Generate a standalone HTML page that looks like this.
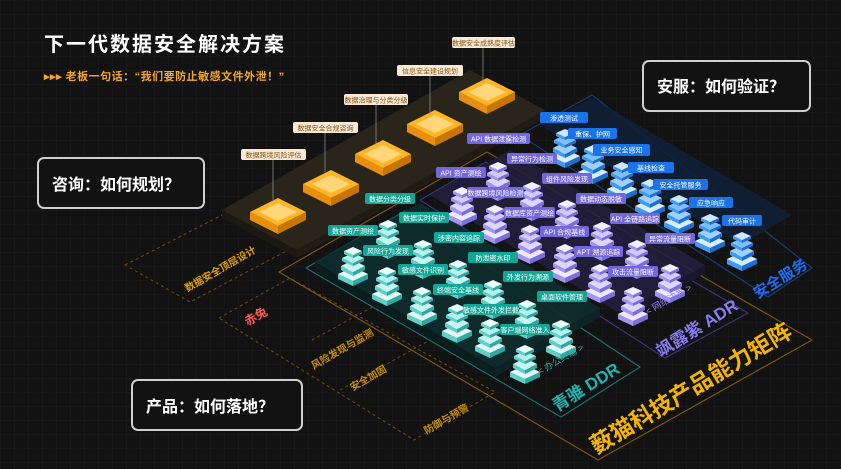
<!DOCTYPE html>
<html><head><meta charset="utf-8"><style>
html,body{margin:0;padding:0;background:#121212;}
svg{display:block;font-family:"Liberation Sans","Noto Sans CJK SC",sans-serif;}
</style></head><body>
<svg width="841" height="469" viewBox="0 0 841 469" xmlns="http://www.w3.org/2000/svg">
<defs>
<pattern id="grid" width="14" height="14" patternUnits="userSpaceOnUse">
<path d="M14 0H0V14" fill="none" stroke="#1c1c1c" stroke-width="1"/>
</pattern>
<g id="tstack">
<polygon points="-15,14 0,21 0,26 -15,19" fill="#5fd0c8"/><polygon points="15,14 0,21 0,26 15,19" fill="#2fa8a4"/><polygon points="0,7 15,14 0,21 -15,14" fill="#dffaf7"/>
<polygon points="-12,6 0,12 0,16 -12,10" fill="#5fd0c8"/><polygon points="12,6 0,12 0,16 12,10" fill="#2fa8a4"/><polygon points="0,0 12,6 0,12 -12,6" fill="#c8f5f1"/>
<polygon points="-11,-2 0,3 0,6 -11,1" fill="#5fd0c8"/><polygon points="11,-2 0,3 0,6 11,1" fill="#2fa8a4"/><polygon points="0,-7 11,-2 0,3 -11,-2" fill="#b6f0ec"/>
<polygon points="-9,-9 0,-5 0,-2 -9,-6" fill="#5fd0c8"/><polygon points="9,-9 0,-5 0,-2 9,-6" fill="#2fa8a4"/><polygon points="0,-13 9,-9 0,-5 -9,-9" fill="#e8fffc"/>
</g>
<g id="pstack">
<polygon points="-15,14 0,21 0,26 -15,19" fill="#a394f0"/><polygon points="15,14 0,21 0,26 15,19" fill="#7d6cdc"/><polygon points="0,7 15,14 0,21 -15,14" fill="#ece8ff"/>
<polygon points="-12,6 0,12 0,16 -12,10" fill="#a394f0"/><polygon points="12,6 0,12 0,16 12,10" fill="#7d6cdc"/><polygon points="0,0 12,6 0,12 -12,6" fill="#ddd6ff"/>
<polygon points="-11,-2 0,3 0,6 -11,1" fill="#a394f0"/><polygon points="11,-2 0,3 0,6 11,1" fill="#7d6cdc"/><polygon points="0,-7 11,-2 0,3 -11,-2" fill="#d2c9ff"/>
<polygon points="-9,-9 0,-5 0,-2 -9,-6" fill="#a394f0"/><polygon points="9,-9 0,-5 0,-2 9,-6" fill="#7d6cdc"/><polygon points="0,-13 9,-9 0,-5 -9,-9" fill="#f2efff"/>
</g>
<g id="bstack">
<polygon points="-15,14 0,21 0,26 -15,19" fill="#3d9cf0"/><polygon points="15,14 0,21 0,26 15,19" fill="#1c6fd0"/><polygon points="0,7 15,14 0,21 -15,14" fill="#d6ecff"/>
<polygon points="-12,6 0,12 0,16 -12,10" fill="#3d9cf0"/><polygon points="12,6 0,12 0,16 12,10" fill="#1c6fd0"/><polygon points="0,0 12,6 0,12 -12,6" fill="#9fd0ff"/>
<polygon points="-11,-2 0,3 0,6 -11,1" fill="#3d9cf0"/><polygon points="11,-2 0,3 0,6 11,1" fill="#1c6fd0"/><polygon points="0,-7 11,-2 0,3 -11,-2" fill="#7dbfff"/>
<polygon points="-9,-9 0,-5 0,-2 -9,-6" fill="#3d9cf0"/><polygon points="9,-9 0,-5 0,-2 9,-6" fill="#1c6fd0"/><polygon points="0,-13 9,-9 0,-5 -9,-9" fill="#cfe7ff"/>
</g>
<g id="gtile">
<polygon points="-28,0 0,14 0,22 -28,8" fill="#e88f10"/><polygon points="28,0 0,14 0,22 28,8" fill="#c97506"/>
<polygon points="0,-14 28,0 0,14 -28,0" fill="#ffb526"/>
<polygon points="0,-9 19,0 0,9 -19,0" fill="#ffd77a"/>
</g>
</defs>
<rect width="841" height="469" fill="#121212"/>
<rect width="841" height="469" fill="url(#grid)"/>

<polygon points="125,265 265,193 330,228 190,302" fill="none" stroke="#6a4e12" stroke-width="1" stroke-dasharray="3,3"/>
<polygon points="279,272 487,152 812,340 598,460" fill="none" stroke="#7a5410" stroke-width="1.2" stroke-linejoin="round"/>
<polygon points="219,318 290,278 495,392 414,440" fill="none" stroke="#6a4e12" stroke-width="1" stroke-dasharray="3,3"/>
<line x1="312" y1="340" x2="400" y2="292" stroke="#6a4e12" stroke-dasharray="3,3"/>
<line x1="340" y1="390" x2="430" y2="340" stroke="#6a4e12" stroke-dasharray="3,3"/>
<polygon points="306,268 405,211 640,367 561,417" fill="none" stroke="#1b6e70" stroke-width="1.2" stroke-linejoin="round"/>
<polygon points="420,200 486,162 748,313 665,358" fill="none" stroke="#3d3380" stroke-width="1.2" stroke-linejoin="round"/>
<polygon points="520,135 592,95 812,268 768,297" fill="none" stroke="#173d74" stroke-width="1.2" stroke-linejoin="round"/>

<polygon points="222,210 470,70 545,110 297,250" fill="#2a251a"/>
<polygon points="222,210 297,250 297,258 222,218" fill="#1c1912"/>
<polygon points="297,250 545,110 545,118 297,258" fill="#201c14"/>
<polygon points="540,125 592,98 792,215 740,245" fill="#0f2036" opacity="0.9"/>
<polygon points="430,195 510,150 705,265 622,315" fill="#241f3e" opacity="0.9"/>
<polygon points="622,315 705,265 705,273 622,323" fill="#1a1630"/>
<polygon points="315,262 420,203 600,308 495,368" fill="#0f2c2c" opacity="0.95"/>
<polygon points="315,262 495,368 495,377 315,271" fill="#0b1e1e"/>
<polygon points="495,368 600,308 600,317 495,377" fill="#0d2424"/>

<use href="#gtile" x="278" y="212"/>
<use href="#gtile" x="331" y="184"/>
<use href="#gtile" x="383" y="154"/>
<use href="#gtile" x="435" y="124"/>
<use href="#gtile" x="487" y="92"/>
<g stroke="#999" stroke-width="0.7">
<line x1="273" y1="160" x2="273" y2="200"/><line x1="325" y1="133" x2="325" y2="172"/><line x1="376" y1="105" x2="376" y2="145"/><line x1="430" y1="76" x2="430" y2="115"/><line x1="483" y1="48" x2="483" y2="82"/>
</g>
<g font-size="7" fill="#8a5414" text-anchor="middle">
<rect x="241" y="149" width="65" height="11" rx="2" fill="#f6ead6"/><text x="273.5" y="157.5">数据跨境风险评估</text>
<rect x="293" y="122" width="65" height="11" rx="2" fill="#f6ead6"/><text x="325.5" y="130.5">数据安全合规咨询</text>
<rect x="344" y="94" width="64" height="11" rx="2" fill="#f6ead6"/><text x="376" y="102.5">数据治理与分类分级</text>
<rect x="397" y="65" width="66" height="11" rx="2" fill="#f6ead6"/><text x="430" y="73.5">信息安全建设规划</text>
<rect x="452" y="37" width="63" height="11" rx="2" fill="#f6ead6"/><text x="483.5" y="45.5">数据安全成熟度评估</text>
</g>

<g>
<use href="#bstack" x="565" y="142"/><use href="#bstack" x="593" y="158"/><use href="#bstack" x="622" y="175"/><use href="#bstack" x="650" y="192"/><use href="#bstack" x="679" y="208"/><use href="#bstack" x="710" y="227"/><use href="#bstack" x="742" y="245"/>
<use href="#pstack" x="498" y="175"/><use href="#pstack" x="462" y="200"/><use href="#pstack" x="532" y="195"/><use href="#pstack" x="495" y="218"/><use href="#pstack" x="567" y="213"/><use href="#pstack" x="530" y="238"/><use href="#pstack" x="602" y="235"/><use href="#pstack" x="565" y="257"/><use href="#pstack" x="637" y="253"/><use href="#pstack" x="600" y="277"/><use href="#pstack" x="670" y="277"/><use href="#pstack" x="633" y="300"/>
<use href="#tstack" x="388" y="233"/><use href="#tstack" x="353" y="260"/><use href="#tstack" x="423" y="253"/><use href="#tstack" x="387" y="280"/><use href="#tstack" x="458" y="273"/><use href="#tstack" x="422" y="300"/><use href="#tstack" x="493" y="293"/><use href="#tstack" x="457" y="317"/><use href="#tstack" x="527" y="313"/><use href="#tstack" x="490" y="332"/><use href="#tstack" x="561" y="333"/><use href="#tstack" x="525" y="358"/>
</g>

<g font-size="7" fill="#fff" text-anchor="middle">
<g fill="#1a73e8">
<rect x="540" y="112" width="48" height="11" rx="2"/><rect x="568" y="128" width="49" height="11" rx="2"/><rect x="593" y="144" width="57" height="12" rx="2"/><rect x="628" y="162" width="46" height="11" rx="2"/><rect x="653" y="179" width="55" height="11" rx="2"/><rect x="689" y="197" width="44" height="11" rx="2"/><rect x="722" y="215" width="40" height="11" rx="2"/>
</g>
<text x="564" y="120.5">渗透测试</text><text x="592.5" y="136.5">重保、护网</text><text x="621.5" y="152.5">业务安全感知</text><text x="651" y="170.5">基线检查</text><text x="680.5" y="187.5">安全托管服务</text><text x="711" y="205.5">应急响应</text><text x="742" y="223.5">代码审计</text>
<g fill="#7466dc">
<rect x="467" y="133" width="63" height="11" rx="2"/><rect x="507" y="153" width="50" height="11" rx="2"/><rect x="436" y="167" width="50" height="11" rx="2"/><rect x="542" y="173" width="50" height="11" rx="2"/><rect x="467" y="187" width="57" height="11" rx="2"/><rect x="576" y="193" width="50" height="11" rx="2"/><rect x="504" y="207" width="51" height="11" rx="2"/><rect x="610" y="213" width="50" height="11" rx="2"/><rect x="540" y="226" width="49" height="11" rx="2"/><rect x="645" y="233" width="50" height="11" rx="2"/><rect x="574" y="246" width="49" height="11" rx="2"/><rect x="608" y="266" width="50" height="11" rx="2"/>
</g>
<text x="498.5" y="141.5">API 数据泄露检测</text><text x="532" y="161.5">异常行为检测</text><text x="461" y="175.5">API 资产测绘</text><text x="567" y="181.5">组件风险发现</text><text x="495.5" y="195.5">数据跨境风险检测</text><text x="601" y="201.5">数据动态脱敏</text><text x="529.5" y="215.5">数据库资产测绘</text><text x="635" y="221.5">API 全链路追踪</text><text x="564.5" y="234.5">API 合规基线</text><text x="670" y="241.5">异常流量阻断</text><text x="598.5" y="254.5">APT 溯源追踪</text><text x="633" y="274.5">攻击流量阻断</text>
<g fill="#13a595">
<rect x="365" y="193" width="50" height="11" rx="2"/><rect x="399" y="212" width="50" height="11" rx="2"/><rect x="328" y="225" width="50" height="11" rx="2"/><rect x="434" y="232" width="50" height="11" rx="2"/><rect x="363" y="245" width="50" height="11" rx="2"/><rect x="468" y="252" width="50" height="11" rx="2"/><rect x="398" y="264" width="50" height="11" rx="2"/><rect x="503" y="271" width="50" height="11" rx="2"/><rect x="433" y="284" width="50" height="11" rx="2"/><rect x="537" y="291" width="50" height="11" rx="2"/><rect x="463" y="304" width="56" height="11" rx="2"/><rect x="500" y="324" width="50" height="11" rx="2"/>
</g>
<text x="390" y="201.5">数据分类分级</text><text x="424" y="220.5">数据实时保护</text><text x="353" y="233.5">数据资产测绘</text><text x="459" y="240.5">涉密内容追踪</text><text x="388" y="253.5">风险行为发现</text><text x="493" y="260.5">防泄密水印</text><text x="423" y="272.5">敏感文件识别</text><text x="528" y="279.5">外发行为溯源</text><text x="458" y="292.5">终端安全基线</text><text x="562" y="299.5">桌面软件管理</text><text x="491" y="312.5">敏感文件外发拦截</text><text x="525" y="332.5">客户端网络准入</text>
</g>

<g text-anchor="middle" font-weight="bold">
<text transform="translate(222,272) rotate(-30)" font-size="10" fill="#e0a000">数据安全顶层设计</text>
<text transform="translate(258,320) rotate(-30)" font-size="12" fill="#ff5a5a">赤兔</text>
<text transform="translate(344,352) rotate(-30)" font-size="10" fill="#c89000">风险发现与监测</text>
<text transform="translate(370,381) rotate(-30)" font-size="10" fill="#c89000">安全加固</text>
<text transform="translate(448,422) rotate(-30)" font-size="10" fill="#c89000">防御与预警</text>
<text transform="translate(562,362) rotate(-30)" font-size="9" font-weight="normal" fill="#23b3b0">&lt; 办公终端 &gt;</text>
<text transform="translate(670,302) rotate(-30)" font-size="9" font-weight="normal" fill="#8d7ff0">&lt; 网络边界 &gt;</text>
<text transform="translate(589,392) rotate(-32)" font-size="17" fill="#1eb5b0">青骓 DDR</text>
<text transform="translate(700,333) rotate(-32)" font-size="17" fill="#8a7cf0">飒露紫 ADR</text>
<text transform="translate(783,283) rotate(-32)" font-size="15" fill="#1b6ef5">安全服务</text>
<text transform="translate(695,395) rotate(-31)" font-size="23" fill="#f5b400">薮猫科技产品能力矩阵</text>
</g>

<text x="44" y="51" font-size="20" font-weight="bold" fill="#fff" letter-spacing="2">下一代数据安全解决方案</text>
<text x="44" y="80" font-size="11" font-weight="bold" fill="#f5a623" letter-spacing="0.5">▸▸▸ 老板一句话：“我们要防止敏感文件外泄！”</text>

<g fill="#121212" stroke="#cfcfcf" stroke-width="2">
<rect x="38" y="158" width="166" height="50" rx="6"/>
<rect x="643" y="61" width="167" height="50" rx="6"/>
<rect x="132" y="380" width="170" height="50" rx="6"/>
</g>
<g font-size="16" font-weight="bold" fill="#fff">
<text x="52" y="190">咨询：如何规划？</text>
<text x="657" y="92">安服：如何验证？</text>
<text x="146" y="412">产品：如何落地？</text>
</g>
</svg>
</body></html>
